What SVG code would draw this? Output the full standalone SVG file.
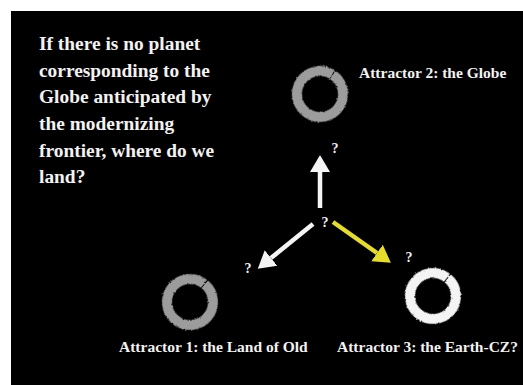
<svg xmlns="http://www.w3.org/2000/svg" width="523" height="385" viewBox="0 0 523 385">
  <defs>
    <style>
      .q { font-family: "Liberation Serif", "DejaVu Serif", serif; font-weight: bold; fill: #f2f2f2; }
      .main { font-size: 19.4px; }
      .lbl { font-size: 15.5px; }
      .qm { font-size: 14px; text-anchor: middle; }
      .ring { fill: none; stroke-width: 10; stroke-dasharray: 142.5 2; }
      .shaft { fill: none; stroke-width: 4.5; stroke-linecap: butt; }
    </style>
    <filter id="chalk" x="-20%" y="-20%" width="140%" height="140%">
      <feTurbulence type="fractalNoise" baseFrequency="0.9" numOctaves="2" seed="3" result="n"/>
      <feDisplacementMap in="SourceGraphic" in2="n" scale="2.5" xChannelSelector="R" yChannelSelector="G"/>
    </filter>
    <marker id="hw" markerUnits="userSpaceOnUse" markerWidth="18" markerHeight="22" refX="0" refY="11" orient="auto" viewBox="0 0 18 22">
      <path d="M0,1 L17,11 L0,21 z" fill="#f4f4f4"/>
    </marker>
    <marker id="hy" markerUnits="userSpaceOnUse" markerWidth="18" markerHeight="22" refX="0" refY="11" orient="auto" viewBox="0 0 18 22">
      <path d="M0,1 L17,11 L0,21 z" fill="#e6dc2a"/>
    </marker>
  </defs>

  <rect x="0" y="0" width="523" height="385" fill="#ffffff"/>
  <rect x="11" y="11" width="512" height="374" fill="#000000"/>

  <g id="question">
    <text class="q main" x="39" y="50">If there is no planet</text>
    <text class="q main" x="39" y="77">corresponding to the</text>
    <text class="q main" x="39" y="103">Globe anticipated by</text>
    <text class="q main" x="39" y="130">the modernizing</text>
    <text class="q main" x="39" y="157">frontier, where do we</text>
    <text class="q main" x="39" y="183">land?</text>
  </g>

  <g id="attractor2">
    <circle class="ring" cx="320" cy="94" r="23" stroke="#9c9c9c" transform="rotate(-56 320 94)" filter="url(#chalk)"/>
    <text class="q lbl" x="359" y="78">Attractor 2: the Globe</text>
  </g>

  <g id="attractor1">
    <circle class="ring" cx="190" cy="302" r="23" stroke="#9c9c9c" transform="rotate(-50 190 302)" filter="url(#chalk)"/>
    <text class="q lbl" x="119" y="352">Attractor 1: the Land of Old</text>
  </g>

  <g id="attractor3">
    <circle class="ring" cx="433" cy="296" r="23" stroke="#f4f4f4" transform="rotate(-50 433 296)" filter="url(#chalk)"/>
    <text class="q lbl" x="337" y="352">Attractor 3: the Earth-CZ?</text>
  </g>

  <g id="center">
    <text class="q qm" x="325" y="227">?</text>
  </g>

  <g id="connectors">
    <line class="shaft" x1="320" y1="208" x2="320" y2="172" stroke="#f4f4f4" marker-end="url(#hw)"/>
    <line class="shaft" x1="313" y1="224" x2="271" y2="258" stroke="#f4f4f4" marker-end="url(#hw)"/>
    <line class="shaft" x1="333" y1="222" x2="377" y2="253" stroke="#e6dc2a" marker-end="url(#hy)"/>
    <text class="q qm" x="335" y="153">?</text>
    <text class="q qm" x="248" y="273">?</text>
    <text class="q qm" x="409" y="262">?</text>
  </g>
</svg>
